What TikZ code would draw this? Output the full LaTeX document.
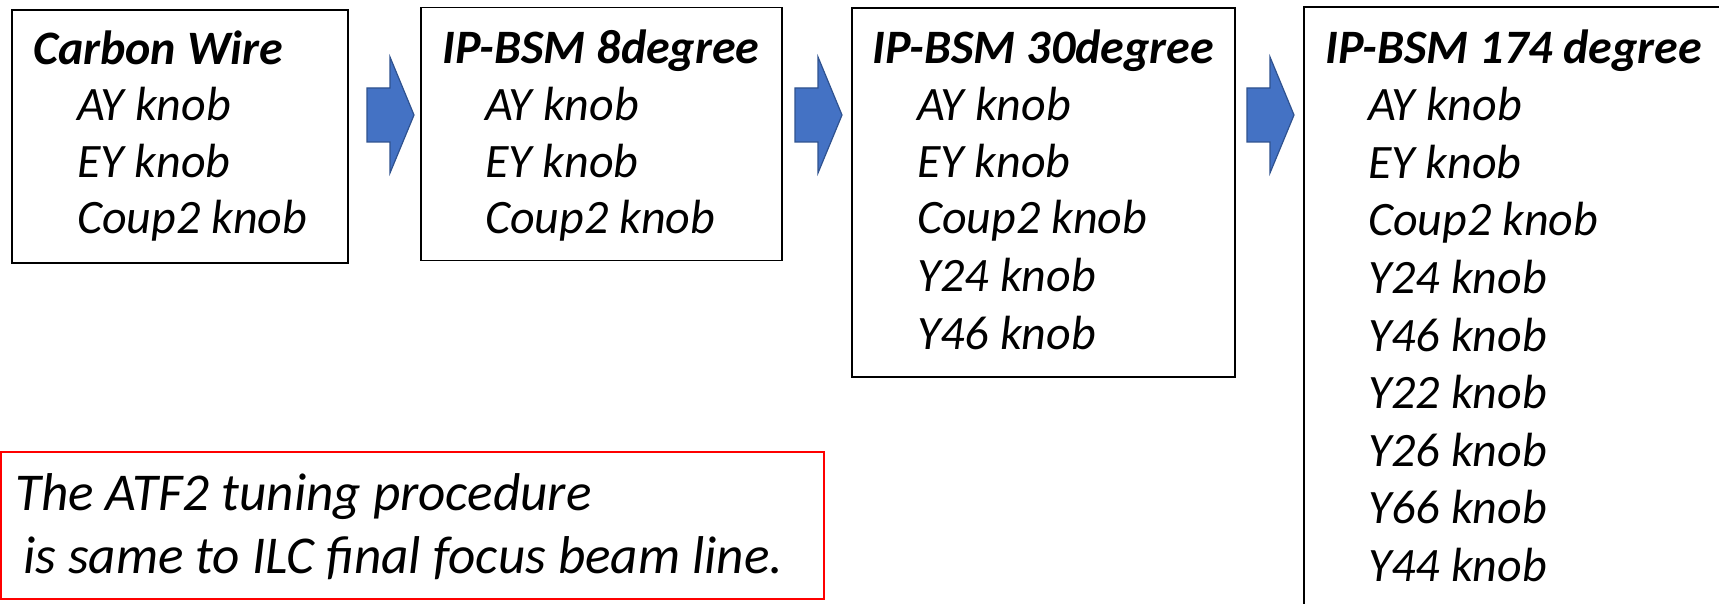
\documentclass[tikz,border=0pt]{standalone}
\usepackage{fontspec}
\setmainfont{Carlito}
\usetikzlibrary{calc}
\definecolor{arrowblue}{HTML}{4472C4}
\definecolor{arrowedge}{HTML}{2F528F}
\tikzset{
  box/.style={draw=black, line width=1.5pt, fill=none, anchor=north west, inner sep=0pt, outer sep=0pt},
  ttl/.style={anchor=base west, inner sep=0pt, font=\fontsize{48}{57}\selectfont\bfseries\itshape},
  itm/.style={anchor=base west, inner sep=0pt, font=\fontsize{48}{57}\selectfont\itshape},
  note/.style={anchor=base west, inner sep=0pt, font=\fontsize{53.2}{63}\selectfont\itshape},
  blockarrow/.style={fill=arrowblue, draw=arrowedge, line width=1.2pt, line join=miter},
}
\begin{document}
\begin{tikzpicture}[x=1pt,y=-1pt]
\useasboundingbox (0,0) rectangle (1719,604);
\clip (0,0) rectangle (1719,604);
\fill[white] (0,0) rectangle (1719,604);

% boxes
\node[box, minimum width=336pt, minimum height=253pt] (b1) at (12,10) {};
\node[box, minimum width=361pt, minimum height=253pt] (b2) at (421,7.5) {};
\node[box, minimum width=383pt, minimum height=369pt] (b3) at (852,8) {};
\node[box, minimum width=440pt, minimum height=620pt] (b4) at (1304,7) {};
\node[box, draw=red, minimum width=823pt, minimum height=147pt] (rb) at (1,452) {};

% block arrows
\coordinate (a1) at (367,115);
\coordinate (a2) at (795,115);
\coordinate (a3) at (1247,115);
\foreach \c in {a1,a2,a3}{
  \draw[blockarrow] ($(\c)+(0,-27)$) -- ++(23,0) -- ++(0,-31) -- ($(\c)+(47,0)$)
    -- ($(\c)+(23,58)$) -- ++(0,-31) -- ($(\c)+(0,27)$) -- cycle;
}

% box 1
\node[ttl] (t1) at (33,65) {Carbon Wire};
\node[itm] (t1a) at (77,121) {AY knob};
\node[itm] (t1b) at (77,178) {EY knob};
\node[itm] (t1c) at (77,234) {Coup2 knob};

% box 2
\node[ttl] (t2) at (442,64) {IP-BSM 8degree};
\node[itm] (t2a) at (485,121) {AY knob};
\node[itm] (t2b) at (485,178) {EY knob};
\node[itm] (t2c) at (485,234) {Coup2 knob};

% box 3
\node[ttl] (t3) at (872,64) {IP-BSM 30degree};
\node[itm] (t3a) at (917,121) {AY knob};
\node[itm] (t3b) at (917,178) {EY knob};
\node[itm] (t3c) at (917,234) {Coup2 knob};
\node[itm] (t3d) at (917,291) {Y24 knob};
\node[itm] (t3e) at (917,349) {Y46 knob};

% box 4
\node[ttl] (t4) at (1325,64) {IP-BSM 174 degree};
\node[itm] (t4a) at (1368,121) {AY knob};
\node[itm] (t4b) at (1368,178.5) {EY knob};
\node[itm] (t4c) at (1368,236) {Coup2 knob};
\node[itm] (t4d) at (1368,293.5) {Y24 knob};
\node[itm] (t4e) at (1368,351) {Y46 knob};
\node[itm] (t4f) at (1368,408.5) {Y22 knob};
\node[itm] (t4g) at (1368,466) {Y26 knob};
\node[itm] (t4h) at (1368,523.5) {Y66 knob};
\node[itm] (t4i) at (1368,581) {Y44 knob};

% note
\node[note] (n1) at (15,510) {The ATF2 tuning procedure};
\node[note] (n2) at (23,573) {is same to ILC final focus beam line.};
\end{tikzpicture}
\end{document}
